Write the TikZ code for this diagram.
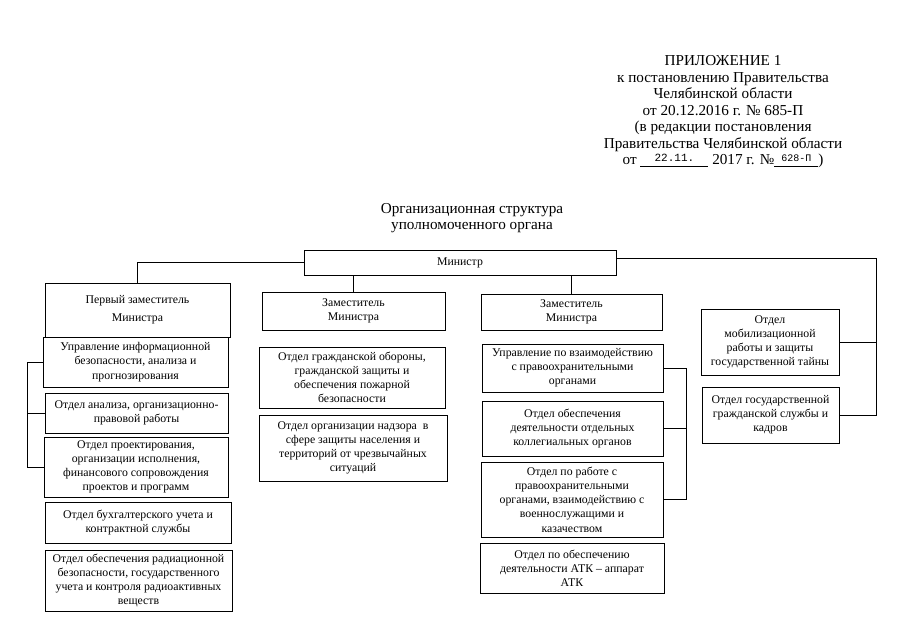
\documentclass[tikz,border=0pt]{standalone}
\usepackage{fontspec}
\setmainfont{Liberation Serif}
\newfontfamily\stampfont{Liberation Mono}
\usetikzlibrary{positioning,calc}

\begin{document}
\begin{tikzpicture}[x=1pt,y=-1pt,line width=0.6pt,
	otdel/.style={draw,align=center,inner sep=1pt,font=\fontsize{11.8}{14.2}\selectfont},
	header/.style={align=center,font=\fontsize{15.2}{16.5}\selectfont}]
\useasboundingbox (0,0) rectangle (905,640);
%	\draw[lightgray] (0,0) grid[step=50] (905,640);

\node[header] (Prilozh) at (723,112) {ПРИЛОЖЕНИЕ 1\\
	к постановлению Правительства\\
	Челябинской области\\
	от 20.12.2016 г. № 685-П\\
	(в редакции постановления\\
	Правительства Челябинской области\\
	от \underline{\makebox[68pt]{\raisebox{3pt}{\stampfont\fontsize{11}{11}\selectfont 22.11.}}} 2017 г. №\underline{\makebox[44pt]{\raisebox{3pt}{\stampfont\fontsize{10}{10}\selectfont 628-П}}})};
\node[header] (Title) at (472,218) {Организационная структура\\ уполномоченного органа};

\node[otdel,minimum width=312,minimum height=25] (Minister) at (460,262.5) {Министр};

\node[otdel,minimum width=185,minimum height=54] (Dep1) at (137.5,310) {Первый заместитель\\[4pt] Министра};
\node[otdel,minimum width=183,minimum height=38] (Dep2) at (353.5,311) {Заместитель\\ Министра};
\node[otdel,minimum width=181,minimum height=36] (Dep3) at (571.5,312) {Заместитель\\ Министра};

\node[otdel,minimum width=185,minimum height=50] (InfoBez) at (135.5,362) {Управление информационной\\ безопасности, анализа и\\ прогнозирования};
\node[otdel,minimum width=183,minimum height=40] (Analiz) at (136.5,413) {Отдел анализа, организационно-\\ правовой работы};
\node[otdel,minimum width=184,minimum height=60] (Proekt) at (136,467) {Отдел проектирования,\\ организации исполнения,\\ финансового сопровождения\\ проектов и программ};
\node[otdel,minimum width=186,minimum height=41] (Buhuchet) at (138,522.5) {Отдел бухгалтерского учета и\\ контрактной службы};
\node[otdel,minimum width=187,minimum height=61] (Radiac) at (138.5,580.5) {Отдел обеспечения радиационной\\ безопасности, государственного\\ учета и контроля радиоактивных\\ веществ};

\node[otdel,minimum width=186,minimum height=61] (GrOborona) at (352,377.5) {Отдел гражданской обороны,\\ гражданской защиты и\\ обеспечения пожарной\\ безопасности};
\node[otdel,minimum width=188,minimum height=66] (Nadzor) at (353,448) {Отдел организации надзора\ \ в\\ сфере защиты населения и\\ территорий от чрезвычайных\\ ситуаций};

\node[otdel,minimum width=181,minimum height=48] (Pravo) at (572.5,368) {Управление по взаимодействию\\ с правоохранительными\\ органами};
\node[otdel,minimum width=181,minimum height=55] (Kolleg) at (572.5,428.5) {Отдел обеспечения\\ деятельности отдельных\\ коллегиальных органов};
\node[otdel,minimum width=182,minimum height=75] (Kazak) at (572,499.5) {Отдел по работе с\\ правоохранительными\\ органами, взаимодействию с\\ военнослужащими и\\ казачеством};
\node[otdel,minimum width=184,minimum height=50] (ATK) at (572,568) {Отдел по обеспечению\\ деятельности АТК – аппарат\\ АТК};

\node[otdel,minimum width=138,minimum height=66] (Mobil) at (770,342) {Отдел\\ мобилизационной\\ работы и защиты\\ государственной тайны};
\node[otdel,minimum width=137,minimum height=56] (Kadry) at (770.5,415) {Отдел государственной\\ гражданской службы и\\ кадров};

\coordinate (LBus) at (27,0);
\coordinate (MBus) at (686,0);
\coordinate (RBus) at (876,415);

\draw (Minister.west) -| (Dep1.north);
\draw (Minister.south -| Dep2.north) -- (Dep2.north);
\draw (Minister.south -| Dep3.north) -- (Dep3.north);
\draw ([yshift=4pt]Minister.east) -| (RBus) -- (Kadry.east);
\draw (Mobil.east) -- (Mobil.east -| RBus);

\draw (InfoBez.west) -- (InfoBez.west -| LBus) |- (Proekt.west);
\draw (Analiz.west) -- (Analiz.west -| LBus);

\draw (Pravo.east) -- (Pravo.east -| MBus) |- (Kazak.east);
\draw (Kolleg.east) -- (Kolleg.east -| MBus);
\end{tikzpicture}
\end{document}
